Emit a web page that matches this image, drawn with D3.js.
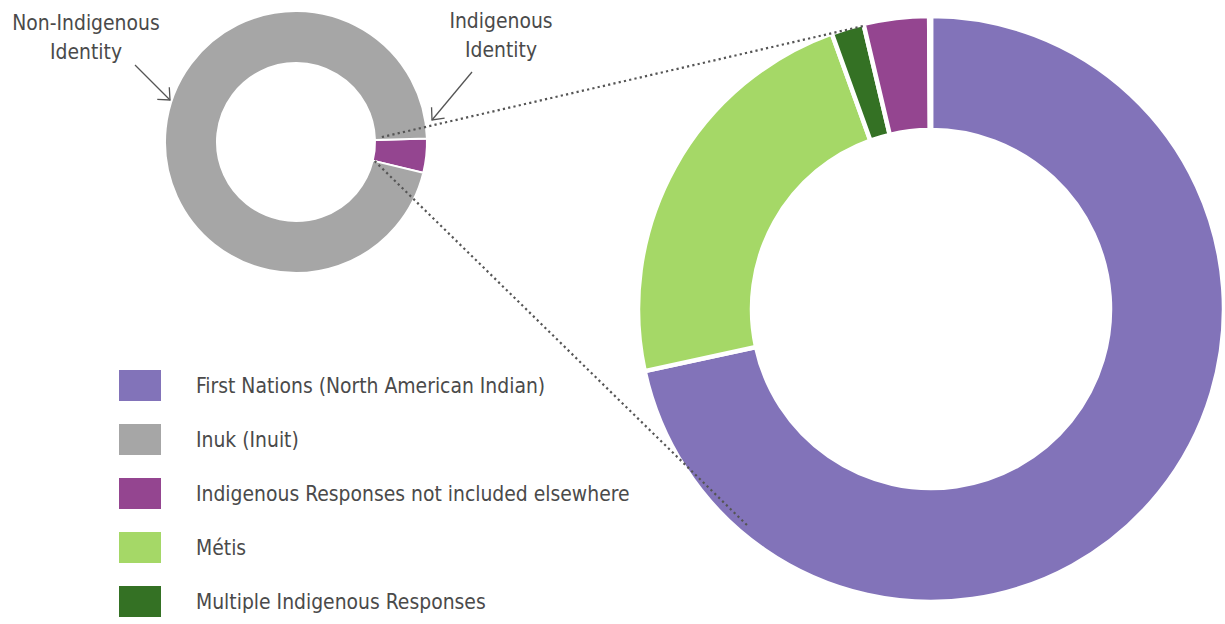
<!DOCTYPE html>
<html>
<head>
<meta charset="utf-8">
<script src="https://cdn.jsdelivr.net/npm/d3@7"></script>
<style>
  body { margin: 0; background: #fff; }
  svg { display: block; font-family: "DejaVu Sans Condensed", "Liberation Sans Narrow", sans-serif; }
</style>
</head>
<body>
<svg id="chart"></svg>
<script>
// overview donut: identity split
var overviewLabels = ['Indigenous Identity', 'Non-Indigenous Identity'];
var overviewValues = [4.2, 95.8];
var overviewColors = ['#944590', '#a6a6a6'];

// detail donut: breakdown of indigenous identity (drawing order, clockwise from top)
var groupLabels = [
    'First Nations (North American Indian)',
    'Métis',
    'Multiple Indigenous Responses',
    'Indigenous Responses not included elsewhere',
    'Inuk (Inuit)'
];
var groupValues = [71.6, 22.9, 1.8, 3.6, 0.1];
var groupColors = ['#8273b9', '#a5d867', '#347124', '#944590', '#a6a6a6'];

// legend order as printed
var legendLabels = [
    'First Nations (North American Indian)',
    'Inuk (Inuit)',
    'Indigenous Responses not included elsewhere',
    'Métis',
    'Multiple Indigenous Responses'
];

(function () {
    'use strict';
    var config = {
        width: 1225,
        height: 624,
        small: { cx: 296, cy: 142, outer: 131, inner: 79, stroke: 2, start: 88.5 },
        big: { cx: 931, cy: 309, outer: 293, inner: 179, stroke: 4.5 },
        legendX: 119, legendY: 370, legendStep: 54, swatchW: 42, swatchH: 31, textX: 196,
        fontSize: 22,
        squeeze: 0.95,   // condensed look
        textColor: '#4a4a4a',
        lineColor: '#555'
    };
    var rad = function (deg) { return deg * Math.PI / 180; };

    var svg = d3.select('#chart')
        .attr('width', config.width)
        .attr('height', config.height);

    var defs = svg.append('defs');
    defs.append('marker')
        .attr('id', 'arrow')
        .attr('markerUnits', 'userSpaceOnUse')
        .attr('markerWidth', 20).attr('markerHeight', 20)
        .attr('viewBox', '-15 -10 20 20')
        .attr('refX', 0).attr('refY', 0)
        .attr('orient', 'auto')
        .append('path')
        .attr('d', 'M-9.5,-8.5L0,0L-9.5,8.5')
        .attr('fill', 'none')
        .attr('stroke', config.lineColor)
        .attr('stroke-width', 1.3);

    // small donut
    var s = config.small;
    var smallPie = d3.pie().sort(null)
        .startAngle(rad(s.start)).endAngle(rad(s.start + 360));
    var smallArcs = smallPie(overviewValues);
    var smallArc = d3.arc().innerRadius(s.inner).outerRadius(s.outer);

    svg.append('g')
        .attr('transform', 'translate(' + s.cx + ',' + s.cy + ')')
        .selectAll('path')
        .data(smallArcs)
        .enter()
        .append('path')
        .attr('d', smallArc)
        .attr('fill', function (d, i) { return overviewColors[i]; })
        .attr('stroke', '#fff')
        .attr('stroke-width', s.stroke);

    // big donut
    var b = config.big;
    var bigPie = d3.pie().sort(null);
    var bigArcs = bigPie(groupValues);
    var bigArc = d3.arc().innerRadius(b.inner).outerRadius(b.outer);

    svg.append('g')
        .attr('transform', 'translate(' + b.cx + ',' + b.cy + ')')
        .selectAll('path')
        .data(bigArcs)
        .enter()
        .append('path')
        .attr('d', bigArc)
        .attr('fill', function (d, i) { return groupColors[i]; })
        .attr('stroke', '#fff')
        .attr('stroke-width', b.stroke);

    // legend
    var legend = svg.append('g')
        .selectAll('g')
        .data(legendLabels)
        .enter()
        .append('g')
        .attr('transform', function (d, i) {
            return 'translate(0,' + (config.legendY + i * config.legendStep) + ')';
        });

    legend.append('rect')
        .attr('x', config.legendX)
        .attr('width', config.swatchW)
        .attr('height', config.swatchH)
        .attr('fill', function (d) { return groupColors[groupLabels.indexOf(d)]; });

    legend.append('text')
        .attr('transform', 'translate(' + config.textX + ',' + (config.swatchH / 2) + ') scale(' + config.squeeze + ',1)')
        .attr('dy', '0.35em')
        .attr('font-size', config.fontSize)
        .attr('fill', config.textColor)
        .text(function (d) { return d; });

    // connector lines (dotted) between the two donuts
    var polar = function (cx, cy, r, a) {
        return [cx + r * Math.sin(a), cy - r * Math.cos(a)];
    };
    var ind = smallArcs[0];
    var connectors = [
        [polar(s.cx, s.cy, 86, ind.startAngle - rad(1.8)), polar(b.cx, b.cy, b.outer - 2, bigArcs[2].endAngle)],
        [polar(s.cx, s.cy, s.inner + 2, ind.endAngle), polar(b.cx, b.cy, 284, rad(220))]
    ];
    svg.append('g')
        .selectAll('line')
        .data(connectors)
        .enter()
        .append('line')
        .attr('x1', function (d) { return d[0][0]; })
        .attr('y1', function (d) { return d[0][1]; })
        .attr('x2', function (d) { return d[1][0]; })
        .attr('y2', function (d) { return d[1][1]; })
        .attr('stroke', config.lineColor)
        .attr('stroke-width', 2.2)
        .attr('stroke-dasharray', '2.2 3.2');

    // annotations
    var notes = [
        { lines: ['Non-Indigenous', 'Identity'], x: 86, y: 30, from: [135, 65], to: [170, 100] },
        { lines: ['Indigenous', 'Identity'], x: 501, y: 28, from: [472, 72], to: [432, 120] }
    ];
    var note = svg.append('g').selectAll('g').data(notes).enter().append('g');
    note.append('text')
        .attr('transform', function (d) { return 'translate(' + d.x + ',' + d.y + ') scale(' + config.squeeze + ',1)'; })
        .attr('text-anchor', 'middle')
        .attr('font-size', config.fontSize)
        .attr('fill', config.textColor)
        .selectAll('tspan')
        .data(function (d) { return d.lines; })
        .enter()
        .append('tspan')
        .attr('x', 0)
        .attr('y', function (d, i) { return i * 29; })
        .text(function (d) { return d; });
    note.append('line')
        .attr('x1', function (d) { return d.from[0]; })
        .attr('y1', function (d) { return d.from[1]; })
        .attr('x2', function (d) { return d.to[0]; })
        .attr('y2', function (d) { return d.to[1]; })
        .attr('stroke', config.lineColor)
        .attr('stroke-width', 1.3)
        .attr('marker-end', 'url(#arrow)');
})();
</script>
</body>
</html>
